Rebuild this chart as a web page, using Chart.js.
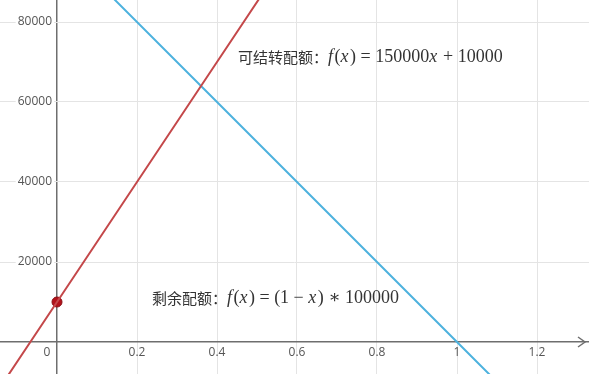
<!DOCTYPE html>
<html>
<head>
<meta charset="utf-8">
<script src="https://cdn.jsdelivr.net/npm/chart.js@4.4.0/dist/chart.umd.min.js"></script>
<style>
  html, body { margin: 0; padding: 0; background: #fff; overflow: hidden; }
  #wrap { width: 589px; height: 374px; overflow: hidden; position: relative; }
  #quotaChart { position: absolute; left: -6px; top: -6px; }
</style>
</head>
<body>
<div id="wrap"><canvas id="quotaChart" width="601" height="386"></canvas></div>
<script>
// values
const xTicks = [0, 0.2, 0.4, 0.6, 0.8, 1, 1.2];
const xTickLabels = ['0', '0.2', '0.4', '0.6', '0.8', '1', '1.2'];
const yTicks = [20000, 40000, 60000, 80000];
const yTickLabels = ['20000', '40000', '60000', '80000'];

// 可结转配额 f(x) = 150000x + 10000
const carryX = [-0.2, 0, 0.2, 0.4, 0.6];
const carryY = [-20000, 10000, 40000, 70000, 100000];
// 剩余配额 f(x) = (1 - x) * 100000
const remainX = [-0.2, 0, 0.4, 0.8, 1, 1.4];
const remainY = [120000, 100000, 60000, 20000, 0, -40000];
// marked point
const dotX = [0];
const dotY = [10000];

const labels = [
  { x: 0.4525, y: 71250, cn: '可结转配额：', math: [['f', 1], ['(', 0], ['x', 1], [')', 0], [' = 150000', 0], ['x', 1], [' + 10000', 0]] },
  { x: 0.2375, y: 11000, cn: '剩余配额：', math: [['f', 1], ['(', 0], ['x', 1], [')', 0], [' = (1 \u2212 ', 0], ['x', 1], [') \u2217 100000', 0]] },
];

const toPts = (xs, ys) => xs.map((v, i) => ({ x: v, y: ys[i] }));

const axisGrid = {
  color: (c) => (c.tick && c.tick.value === 0 ? '#6e6e6e' : '#e4e4e4'),
  lineWidth: (c) => (c.tick && c.tick.value === 0 ? 1.5 : 1),
  drawTicks: false,
};

const overlay = {
  id: 'overlay',
  afterDraw(chart) {
    const ctx = chart.ctx;
    const sx = chart.scales.x, sy = chart.scales.y;
    const x0 = sx.getPixelForValue(0), y0 = sy.getPixelForValue(0);
    const right = chart.chartArea.right;
    ctx.save();
    // arrow at the right end of the x axis
    ctx.strokeStyle = '#6e6e6e';
    ctx.lineWidth = 1.5;
    ctx.beginPath();
    ctx.moveTo(right - 11, y0 - 5);
    ctx.lineTo(right - 4, y0);
    ctx.lineTo(right - 11, y0 + 5);
    ctx.stroke();

    // tick labels
    ctx.font = '12px "Open Sans", "DejaVu Sans", sans-serif';
    ctx.textBaseline = 'middle';
    yTicks.forEach((v, i) => {
      const py = sy.getPixelForValue(v);
      const w = ctx.measureText(yTickLabels[i]).width;
      ctx.fillStyle = '#fff';
      ctx.fillRect(x0 - 5 - w - 2, py - 6, w + 4, 12);
      ctx.fillStyle = '#555';
      ctx.textAlign = 'right';
      ctx.fillText(yTickLabels[i], x0 - 5, py);
    });
    xTicks.forEach((v, i) => {
      let px = sx.getPixelForValue(v);
      if (v === 0) px -= 10;
      ctx.textAlign = 'center';
      ctx.fillText(xTickLabels[i], px, y0 + 11);
    });

    // function labels
    ctx.fillStyle = '#333';
    ctx.textAlign = 'left';
    labels.forEach((lb) => {
      let px = sx.getPixelForValue(lb.x);
      const py = sy.getPixelForValue(lb.y);
      ctx.font = '15px "Noto Sans CJK SC", sans-serif';
      ctx.fillText(lb.cn, px, py);
      px += ctx.measureText(lb.cn).width;
      lb.math.forEach(([t, it]) => {
        ctx.font = it ? 'italic 18px "Liberation Serif", "DejaVu Serif", serif'
                      : '18px "Liberation Serif", "DejaVu Serif", serif';
        ctx.fillText(t, px, py);
        px += ctx.measureText(t).width + (it ? 1.5 : 0);
      });
    });
    ctx.restore();
  },
};

new Chart(document.getElementById('quotaChart'), {
  type: 'scatter',
  data: {
    datasets: [
      {
        label: '可结转配额',
        data: toPts(carryX, carryY),
        showLine: true,
        borderColor: '#c4484a',
        borderWidth: 2,
        pointRadius: 0,
      },
      {
        label: '剩余配额',
        data: toPts(remainX, remainY),
        showLine: true,
        borderColor: '#4db2de',
        borderWidth: 2,
        pointRadius: 0,
      },
      {
        label: 'point',
        data: toPts(dotX, dotY),
        pointRadius: 5,
        pointBackgroundColor: '#b3121b',
        pointBorderColor: '#8a0f14',
        pointBorderWidth: 1,
      },
    ],
  },
  options: {
    responsive: false,
    animation: false,
    maintainAspectRatio: false,
    plugins: { legend: { display: false }, tooltip: { enabled: false } },
    scales: {
      x: {
        type: 'linear',
        min: -0.1425,
        max: 1.33,
        ticks: { display: false },
        border: { display: false },
        grid: axisGrid,
        afterBuildTicks: (s) => { s.ticks = xTicks.map((v) => ({ value: v })); },
        afterFit: (s) => { s.height = 0; },
      },
      y: {
        type: 'linear',
        min: -8000,
        max: 85500,
        ticks: { display: false },
        border: { display: false },
        grid: axisGrid,
        afterBuildTicks: (s) => { s.ticks = [0].concat(yTicks).map((v) => ({ value: v })); },
        afterFit: (s) => { s.width = 0; },
      },
    },
  },
  plugins: [overlay],
});
</script>
</body>
</html>
